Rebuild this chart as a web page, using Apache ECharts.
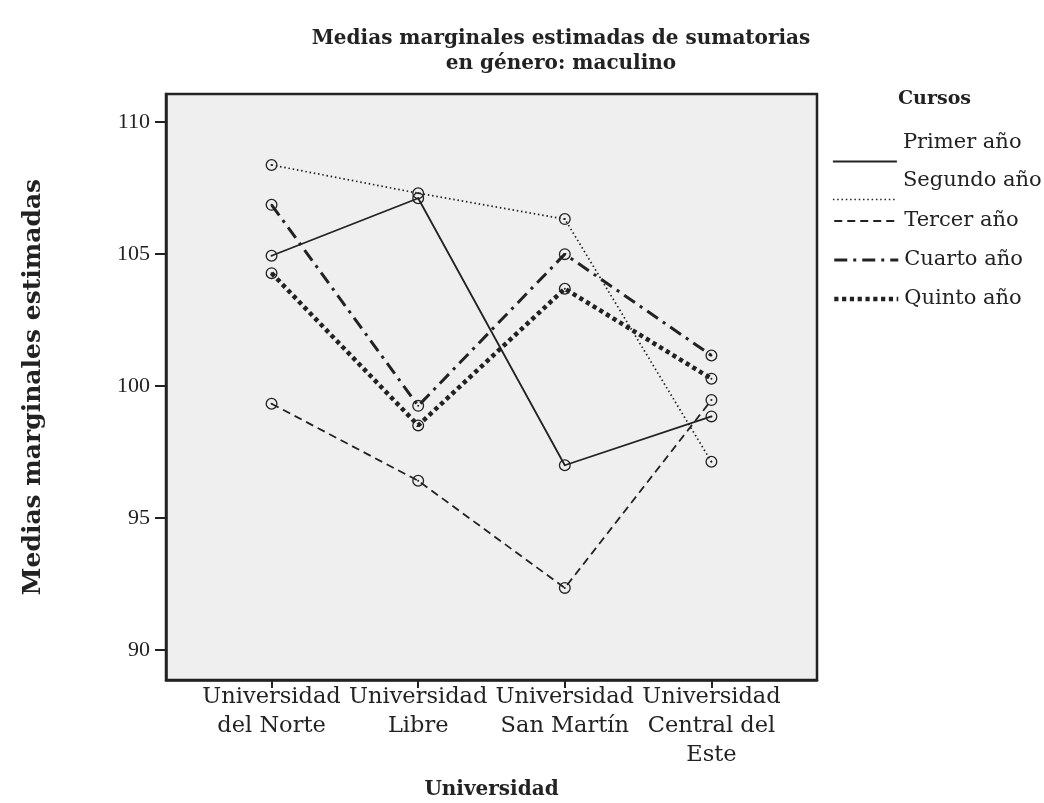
<!DOCTYPE html>
<html>
<head>
<meta charset="utf-8">
<script src="https://cdn.jsdelivr.net/npm/echarts@6/dist/echarts.min.js"></script>
<style>html,body{margin:0;padding:0;background:#fff;}#chart{width:1044px;height:803px;}</style>
</head>
<body>
<div id="chart"></div>
<script>
const universidades = ['Universidad\ndel Norte', 'Universidad\nLibre', 'Universidad\nSan Martín', 'Universidad\nCentral del\nEste'];
const cursos = ['Primer año', 'Segundo año', 'Tercer año', 'Cuarto año', 'Quinto año'];
const primerAno = [104.94, 107.12, 97.00, 98.85];
const segundoAno = [108.38, 107.31, 106.33, 97.13];
const tercerAno = [99.33, 96.41, 92.35, 99.47];
const cuartoAno = [106.87, 99.25, 105.00, 101.16];
const quintoAno = [104.28, 98.51, 103.69, 100.28];
const yTicks = [90, 95, 100, 105, 110];

const serif = '"DejaVu Serif", serif';
const ink = '#222';
const ringDot = 'path://M12,0A12,12 0 1,1 12,24A12,12 0 1,1 12,0Z M12,2.6A9.4,9.4 0 1,0 12,21.4A9.4,9.4 0 1,0 12,2.6Z M12,10A2,2 0 1,1 12,14A2,2 0 1,1 12,10Z';

const styles = [
  { width: 1.8, type: 'solid' },
  { width: 1.7, type: [1.5, 2.8] },
  { width: 1.8, type: [8, 5] },
  { width: 3, type: [13, 6, 3, 6] },
  { width: 4.5, type: [4.2, 3.6] }
];
const values = [primerAno, segundoAno, tercerAno, cuartoAno, quintoAno];

const series = cursos.map((name, i) => ({
  name: name,
  type: 'line',
  data: values[i].map((v, j) => [j, v]),
  symbol: ringDot,
  symbolSize: 12,
  itemStyle: { color: ink },
  lineStyle: { color: ink, width: styles[i].width, type: styles[i].type, cap: 'butt' },
  emphasis: { disabled: true },
  animation: false
}));

const legendItem = i => ({
  name: cursos[i],
  lineStyle: { color: ink, width: styles[i].width, type: styles[i].type, cap: 'butt' }
});

const legendBase = {
  orient: 'vertical',
  left: 827,
  itemWidth: 64,
  itemHeight: 14,
  itemStyle: { opacity: 0 },
  selectedMode: false
};

const chart = echarts.init(document.getElementById('chart'));
chart.setOption({
  backgroundColor: '#fff',
  animation: false,
  title: [
    {
      text: 'Medias marginales estimadas de sumatorias\nen género: maculino',
      left: 556, top: 21, textAlign: 'center',
      textStyle: { fontFamily: serif, fontWeight: 'bold', fontSize: 20, lineHeight: 25, color: ink }
    },
    {
      text: 'Cursos', left: 893, top: 85,
      textStyle: { fontFamily: serif, fontWeight: 'bold', fontSize: 19, color: ink }
    }
  ],
  legend: [
    Object.assign({}, legendBase, {
      data: [legendItem(0), legendItem(1)],
      top: 127, itemGap: -21,
      formatter: '{t|{name}}',
      textStyle: {
        fontFamily: serif, fontSize: 21, color: ink,
        rich: { t: { fontFamily: serif, fontSize: 21, color: ink, lineHeight: 24, padding: [0, 0, 38, 1] } }
      }
    }),
    Object.assign({}, legendBase, {
      data: [legendItem(2), legendItem(3), legendItem(4)],
      top: 204, itemGap: 15,
      textStyle: { fontFamily: serif, fontSize: 21, color: ink, lineHeight: 24, padding: [0, 0, 0, 1] }
    })
  ],
  grid: {
    left: 166, right: 227, top: 94, bottom: 123,
    show: true, backgroundColor: '#efefef', borderColor: ink, borderWidth: 2.5,
    containLabel: false, outerBoundsMode: 'none'
  },
  xAxis: {
    type: 'value', min: -0.72, max: 3.72,
    name: 'Universidad', nameLocation: 'middle', nameGap: 100, nameMoveOverlap: false,
    nameTextStyle: { fontFamily: serif, fontWeight: 'bold', fontSize: 20, color: ink },
    splitLine: { show: false },
    axisLine: { onZero: false, lineStyle: { color: ink, width: 2.5 } },
    axisTick: { customValues: [0, 1, 2, 3], length: 8, lineStyle: { color: ink, width: 2 } },
    axisLabel: {
      customValues: [0, 1, 2, 3],
      formatter: v => universidades[Math.round(v)],
      fontFamily: serif, fontSize: 22.5, lineHeight: 29, color: ink, margin: 3
    }
  },
  yAxis: {
    type: 'value', min: 88.86, max: 111.07,
    name: 'Medias marginales estimadas', nameLocation: 'middle', nameGap: 120,
    nameTextStyle: { fontFamily: serif, fontWeight: 'bold', fontSize: 25, color: ink },
    splitLine: { show: false },
    axisLine: { onZero: false, lineStyle: { color: ink, width: 2.5 } },
    axisTick: { customValues: yTicks, length: 11, lineStyle: { color: ink, width: 2 } },
    axisLabel: {
      customValues: yTicks,
      fontFamily: '"Liberation Serif", serif', fontSize: 22, color: ink, margin: 16
    }
  },
  series: series
});
</script>
</body>
</html>
